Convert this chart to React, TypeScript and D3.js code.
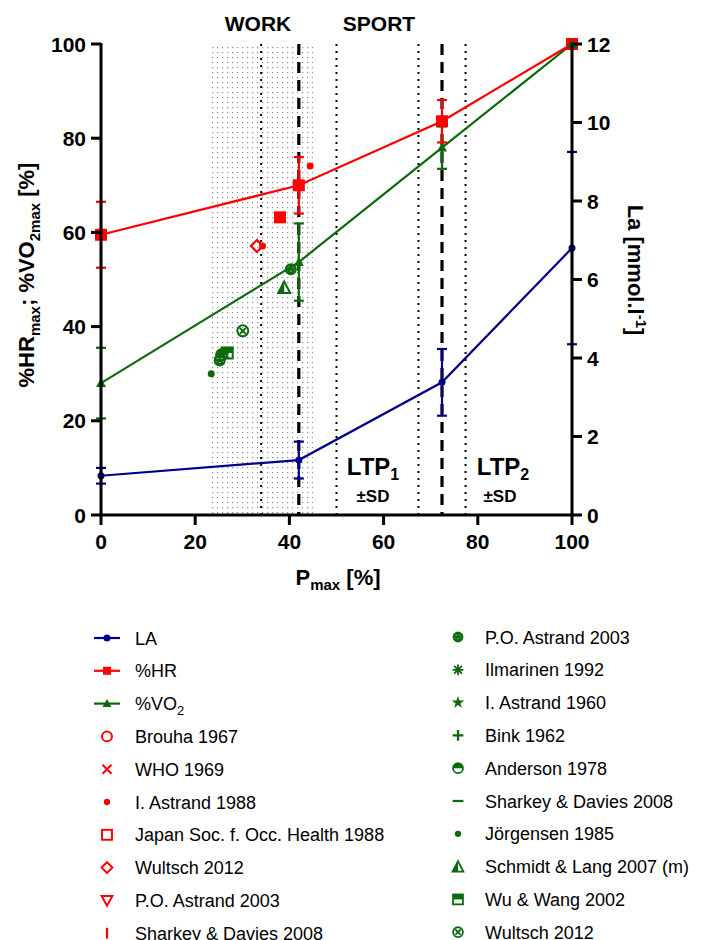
import * as React from "react"
import * as d3 from "d3"

const WIDTH = 711
const HEIGHT = 940
const RED = "#ff0000"
const GREEN = "#0b6b0b"
const NAVY = "#00008b"

// mean curves over relative power
const pmax = [0, 42, 72.4, 100]
const laMean = [1.0, 1.4, 3.38, 6.8]
const laSD = [0.2, 0.47, 0.85, 2.45]
const hrMean = [59.5, 70, 83.6, 100]
const hrSD = [7, 6, 4.5, 0]
const vo2Mean = [28, 53.7, 78, 100]
const vo2SD = [7.5, 8.2, 4.5, 0]

const xTicks = [0, 20, 40, 60, 80, 100]
const yTicks = [0, 20, 40, 60, 80, 100]
const laTicks = [0, 2, 4, 6, 8, 10, 12]

// thresholds
const ltp1 = 42
const ltp1SD = 8
const ltp2 = 72.4
const ltp2SD = 5
const workZone = [23, 45]

// literature points
const redPoints = [
  { key: "dot", x: 44.4, y: 74.1 },
  { key: "dot", x: 34.3, y: 57.1 },
  { key: "square", x: 38, y: 63.2 },
  { key: "diamond", x: 33.1, y: 57.1 },
]
const greenPoints = [
  { key: "dot", x: 23.4, y: 30 },
  { key: "star", x: 25.3, y: 33 },
  { key: "asterisk", x: 25.8, y: 34.2 },
  { key: "plus", x: 26, y: 33.4 },
  { key: "half", x: 25.6, y: 34 },
  { key: "halfsquare", x: 26.8, y: 34.4 },
  { key: "pattern", x: 25.2, y: 32.8 },
  { key: "xcircle", x: 30.1, y: 39.1 },
  { key: "pattern", x: 40.3, y: 52.2 },
  { key: "halftri", x: 38.9, y: 48.3 },
]

const legendLeft = [
  { label: "LA", key: "line-circle", color: NAVY },
  { label: "%HR", key: "line-square", color: RED },
  { label: "%VO", sub: "2", key: "line-tri", color: GREEN },
  { label: "Brouha 1967", key: "circle", color: RED },
  { label: "WHO 1969", key: "cross", color: RED },
  { label: "I. Astrand 1988", key: "dot", color: RED },
  { label: "Japan Soc. f. Occ. Health 1988", key: "opensquare", color: RED },
  { label: "Wultsch 2012", key: "diamond", color: RED },
  { label: "P.O. Astrand 2003", key: "downtri", color: RED },
  { label: "Sharkey & Davies 2008", key: "vbar", color: RED },
]
const legendRight = [
  { label: "P.O. Astrand 2003", key: "pattern", color: GREEN },
  { label: "Ilmarinen 1992", key: "asterisk", color: GREEN },
  { label: "I. Astrand 1960", key: "star", color: GREEN },
  { label: "Bink 1962", key: "plus", color: GREEN },
  { label: "Anderson 1978", key: "half", color: GREEN },
  { label: "Sharkey & Davies 2008", key: "minus", color: GREEN },
  { label: "Jörgensen 1985", key: "dot", color: GREEN },
  { label: "Schmidt & Lang 2007 (m)", key: "halftri", color: GREEN },
  { label: "Wu & Wang 2002", key: "halfsquare", color: GREEN },
  { label: "Wultsch 2012", key: "xcircle", color: GREEN },
]

const x = d3.scaleLinear().domain([0, 100]).range([101, 572])
const y = d3.scaleLinear().domain([0, 100]).range([515, 44])
const yR = d3.scaleLinear().domain([0, 12]).range([515, 44])

function Marker({ kind, cx, cy, color, s = 1 }) {
  const t = `translate(${cx},${cy}) scale(${s})`
  switch (kind) {
    case "dot":
      return <circle transform={t} r={3.5} fill={color} />
    case "circle":
      return <circle transform={t} r={5.5} fill="none" stroke={color} strokeWidth={2.2} />
    case "cross":
      return <path transform={t} d="M-5,-5L5,5M5,-5L-5,5" stroke={color} strokeWidth={2.2} />
    case "square":
      return <rect transform={t} x={-6} y={-6} width={12} height={12} fill={color} />
    case "opensquare":
      return <rect transform={t} x={-5.5} y={-5.5} width={11} height={11} fill="none" stroke={color} strokeWidth={2.2} />
    case "diamond":
      return <path transform={t} d="M0,-6L6,0L0,6L-6,0Z" fill="none" stroke={color} strokeWidth={2.2} />
    case "downtri":
      return <path transform={t} d="M-6,-5L6,-5L0,6Z" fill="none" stroke={color} strokeWidth={2.2} />
    case "vbar":
      return <path transform={t} d="M0,-6V6" stroke={color} strokeWidth={2.5} />
    case "minus":
      return <path transform={t} d="M-6,0H6" stroke={color} strokeWidth={2.5} />
    case "plus":
      return <path transform={t} d="M-6,0H6M0,-6V6" stroke={color} strokeWidth={2.5} />
    case "asterisk":
      return <path transform={t} d="M-6,0H6M0,-6V6M-4.3,-4.3L4.3,4.3M4.3,-4.3L-4.3,4.3" stroke={color} strokeWidth={2} />
    case "star":
      return <path transform={t} d={d3.symbol(d3.symbolStar, 60)()} fill={color} />
    case "half":
      return (
        <g transform={t}>
          <circle r={5.5} fill="none" stroke={color} strokeWidth={2} />
          <path d="M-5.5,0A5.5,5.5 0 0 1 5.5,0Z" fill={color} />
        </g>
      )
    case "halfsquare":
      return (
        <g transform={t}>
          <rect x={-5.5} y={-5.5} width={11} height={11} fill="none" stroke={color} strokeWidth={2} />
          <rect x={-5.5} y={-5.5} width={11} height={5.5} fill={color} />
        </g>
      )
    case "halftri":
      return (
        <g transform={t}>
          <path d="M0,-6L6,5.5L-6,5.5Z" fill="none" stroke={color} strokeWidth={2} />
          <path d="M0,-6L0,5.5L-6,5.5Z" fill={color} />
        </g>
      )
    case "xcircle":
      return (
        <g transform={t}>
          <circle r={5.5} fill="none" stroke={color} strokeWidth={2} />
          <path d="M-3,-3L3,3M3,-3L-3,3" stroke={color} strokeWidth={2} />
        </g>
      )
    case "pattern":
      return (
        <g transform={t}>
          <circle r={6} fill={color} />
          <path d="M-3,-2h2M1,-2h2M-1,2h2M-4,1h1M3,1h1" stroke="#fff" strokeWidth={0.9} opacity={0.6} />
        </g>
      )
    default:
      return null
  }
}

function Series({ mean, sd, scale, color, marker }) {
  const line = d3
    .line<number>()
    .x((_, i) => x(pmax[i]))
    .y(d => scale(d))
  return (
    <g>
      <path d={line(mean)} fill="none" stroke={color} strokeWidth={2.2} />
      {mean.map((m, i) =>
        sd[i] > 0 ? (
          <g key={i} stroke={color} strokeWidth={2.2}>
            <line x1={x(pmax[i])} x2={x(pmax[i])} y1={scale(m - sd[i])} y2={scale(m + sd[i])} />
            <line x1={x(pmax[i]) - 5} x2={x(pmax[i]) + 5} y1={scale(m - sd[i])} y2={scale(m - sd[i])} />
            <line x1={x(pmax[i]) - 5} x2={x(pmax[i]) + 5} y1={scale(m + sd[i])} y2={scale(m + sd[i])} />
          </g>
        ) : null
      )}
      {mean.map((m, i) => (
        <Marker key={"m" + i} kind={marker} cx={x(pmax[i])} cy={scale(m)} color={color} />
      ))}
    </g>
  )
}

function LegendRow({ item, lx, tx, cy }) {
  const isLine = item.key.startsWith("line")
  return (
    <g>
      {isLine ? (
        <g>
          <line x1={lx - 13} x2={lx + 13} y1={cy} y2={cy} stroke={item.color} strokeWidth={2.2} />
          {item.key === "line-circle" && <circle cx={lx} cy={cy} r={3.5} fill={item.color} />}
          {item.key === "line-square" && <rect x={lx - 4} y={cy - 4} width={8} height={8} fill={item.color} />}
          {item.key === "line-tri" && <path d={`M${lx},${cy - 4.5}L${lx + 4.5},${cy + 3.5}L${lx - 4.5},${cy + 3.5}Z`} fill={item.color} />}
        </g>
      ) : (
        <Marker kind={item.key} cx={lx} cy={cy} color={item.color} s={0.9} />
      )}
      <text x={tx} y={cy + 6.5} fontSize={18} fill="#000">
        {item.label}
        {item.sub && (
          <tspan dy={5} fontSize={13}>
            {item.sub}
          </tspan>
        )}
      </text>
    </g>
  )
}

export default function App() {
  const plotTop = 44
  const plotBottom = 515
  const boldFont = { fontFamily: "'Liberation Sans', Arial, sans-serif", fontWeight: "bold" as const }

  return (
    <svg
      width={WIDTH}
      height={HEIGHT}
      style={{ position: "absolute", left: 0, top: 0, background: "#fff" }}
      fontFamily="'Liberation Sans', Arial, sans-serif"
    >
      <defs>
        <pattern id="dots" width={5} height={5} patternUnits="userSpaceOnUse">
          <rect x={2} y={2} width={1.2} height={1.2} fill="#8a8a8a" />
        </pattern>
      </defs>
      <rect width={WIDTH} height={HEIGHT} fill="#fff" />

      {/* work zone shading */}
      <rect
        x={x(workZone[0])}
        y={plotTop}
        width={x(workZone[1]) - x(workZone[0])}
        height={plotBottom - plotTop}
        fill="url(#dots)"
      />

      {/* threshold lines */}
      {[ltp1 - ltp1SD, ltp1 + ltp1SD, ltp2 - ltp2SD, ltp2 + ltp2SD].map((v, i) => (
        <line
          key={"sd" + i}
          x1={x(v)}
          x2={x(v)}
          y1={plotTop}
          y2={plotBottom}
          stroke="#000"
          strokeWidth={2}
          strokeDasharray="2 5"
        />
      ))}
      {[ltp1, ltp2].map((v, i) => (
        <line
          key={"ltp" + i}
          x1={x(v)}
          x2={x(v)}
          y1={plotTop}
          y2={plotBottom}
          stroke="#000"
          strokeWidth={3.2}
          strokeDasharray="11 7"
        />
      ))}

      {/* zone labels */}
      <g {...boldFont} fontSize={21} textAnchor="middle">
        <text x={258} y={31}>WORK</text>
        <text x={379} y={31}>SPORT</text>
      </g>
      <g {...boldFont} textAnchor="middle">
        <text x={373} y={475} fontSize={24}>
          LTP<tspan dy={5} fontSize={16}>1</tspan>
        </text>
        <text x={373} y={502} fontSize={17}>±SD</text>
        <text x={503} y={475} fontSize={24}>
          LTP<tspan dy={5} fontSize={16}>2</tspan>
        </text>
        <text x={500} y={502} fontSize={17}>±SD</text>
      </g>

      {/* literature points */}
      {redPoints.map((p, i) => (
        <Marker key={"r" + i} kind={p.key} cx={x(p.x)} cy={y(p.y)} color={RED} />
      ))}
      {greenPoints.map((p, i) => (
        <Marker key={"g" + i} kind={p.key} cx={x(p.x)} cy={y(p.y)} color={GREEN} />
      ))}

      {/* mean curves */}
      <Series mean={vo2Mean} sd={vo2SD} scale={y} color={GREEN} marker="tri" />
      <Series mean={hrMean} sd={hrSD} scale={y} color={RED} marker="square" />
      <Series mean={laMean} sd={laSD} scale={yR} color={NAVY} marker="dot" />
      {pmax.map((p, i) => (
        <path
          key={"vt" + i}
          d={`M${x(p)},${y(vo2Mean[i]) - 5}L${x(p) + 5},${y(vo2Mean[i]) + 4}L${x(p) - 5},${y(vo2Mean[i]) + 4}Z`}
          fill={GREEN}
        />
      ))}

      {/* axes */}
      <g stroke="#000" strokeWidth={3}>
        <line x1={x(0)} x2={x(0)} y1={plotTop - 1} y2={plotBottom + 1.5} />
        <line x1={x(0) - 1.5} x2={x(100) + 1.5} y1={plotBottom} y2={plotBottom} />
        <line x1={x(100)} x2={x(100)} y1={plotTop - 1} y2={plotBottom + 1.5} />
        {yTicks.map(t => (
          <line key={"yt" + t} x1={x(0) - 10} x2={x(0)} y1={y(t)} y2={y(t)} />
        ))}
        {xTicks.map(t => (
          <line key={"xt" + t} x1={x(t)} x2={x(t)} y1={plotBottom} y2={plotBottom + 10} />
        ))}
        {laTicks.map(t => (
          <line key={"rt" + t} x1={x(100)} x2={x(100) + 10} y1={yR(t)} y2={yR(t)} />
        ))}
      </g>
      <g {...boldFont} fontSize={21}>
        {yTicks.map(t => (
          <text key={"yl" + t} x={x(0) - 15} y={y(t) + 7.5} textAnchor="end">{t}</text>
        ))}
        {xTicks.map(t => (
          <text key={"xl" + t} x={x(t)} y={plotBottom + 34} textAnchor="middle">{t}</text>
        ))}
        {laTicks.map(t => (
          <text key={"rl" + t} x={x(100) + 15} y={yR(t) + 7.5} textAnchor="start">{t}</text>
        ))}
      </g>

      {/* axis titles */}
      <g {...boldFont} fontSize={22}>
        <text x={338} y={585} textAnchor="middle">
          P<tspan dy={5} fontSize={15}>max</tspan>
          <tspan dy={-5}> [%]</tspan>
        </text>
        <text transform="translate(34,275) rotate(-90)" textAnchor="middle">
          %HR<tspan dy={6} fontSize={15}>max</tspan>
          <tspan dy={-6}>; %VO</tspan>
          <tspan dy={6} fontSize={15}>2max</tspan>
          <tspan dy={-6}> [%]</tspan>
        </text>
        <text transform="translate(628,270) rotate(90)" textAnchor="middle">
          La [mmol.l<tspan dy={-8} fontSize={15}>-1</tspan>
          <tspan dy={8}>]</tspan>
        </text>
      </g>

      {/* legend */}
      {legendLeft.map((it, i) => (
        <LegendRow key={"ll" + i} item={it} lx={107} tx={135} cy={638 + i * 32.8} />
      ))}
      {legendRight.map((it, i) => (
        <LegendRow key={"lr" + i} item={it} lx={458} tx={485} cy={637 + i * 32.8} />
      ))}
    </svg>
  )
}
